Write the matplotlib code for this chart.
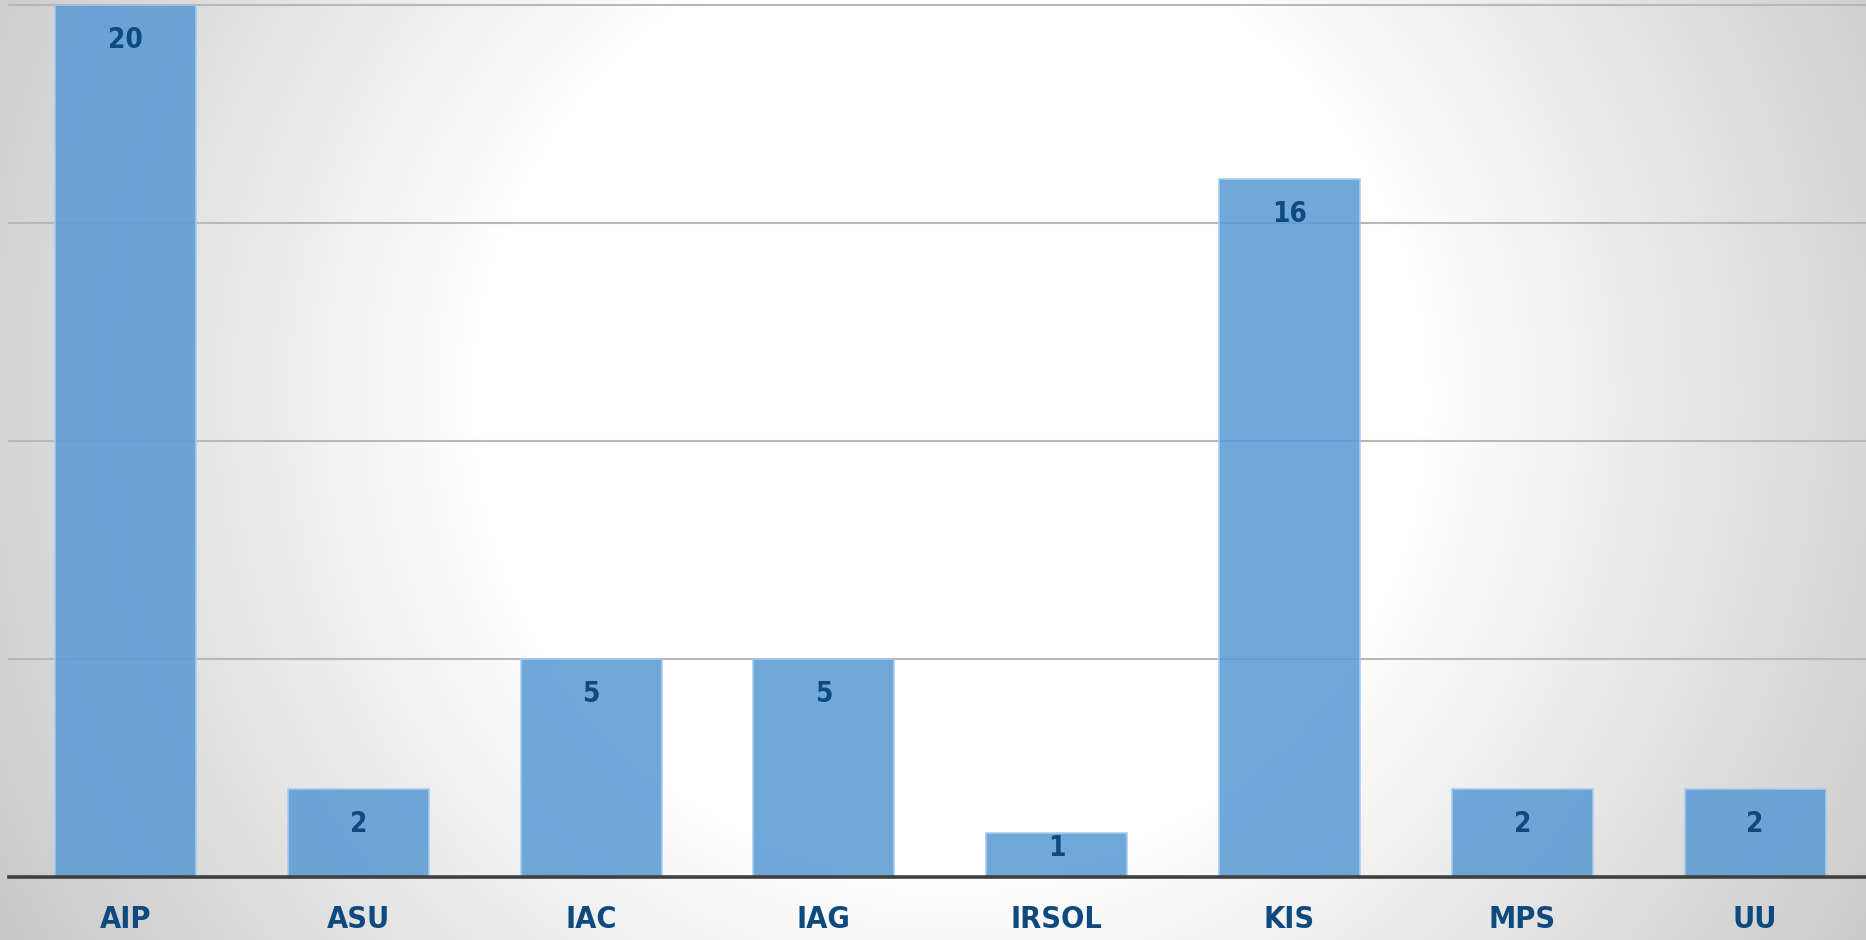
import numpy as np
import matplotlib
matplotlib.use("Agg")
import matplotlib.pyplot as plt
from matplotlib import font_manager

categories = ["AIP", "ASU", "IAC", "IAG", "IRSOL", "KIS", "MPS", "UU"]
values = [20, 2, 5, 5, 1, 16, 2, 2]
grid_values = [5, 10, 15, 20]

W, H, DPI = 1866, 940, 100
fig = plt.figure(figsize=(W / DPI, H / DPI), dpi=DPI)

names = {f.name for f in font_manager.fontManager.ttflist}
if "Liberation Sans Narrow" in names:
    fam = "Liberation Sans Narrow"
    stretch = "normal"
else:
    fam = "DejaVu Sans"
    stretch = "condensed"

# radial gradient background
bg = fig.add_axes([0, 0, 1, 1], zorder=0)
yy, xx = np.mgrid[0:H, 0:W]
d = np.hypot(xx - 950, yy - 400)
v = 255 - 0.088 * np.clip(d - 470, 0, None)
v = np.clip(v, 198, 255) / 255.0
img = np.dstack([v, v, v])
bg.imshow(img, aspect="auto", extent=[0, 1, 0, 1], origin="upper")
bg.axis("off")

left = 9 / W
bottom = (H - 876.5) / H
top = (H - 5) / H
ax = fig.add_axes([left, bottom, 1 - left + 0.003, top - bottom], zorder=1)
ax.set_facecolor("none")

x = np.arange(len(categories))
ax.set_xlim(-0.5, len(categories) - 0.5)
ax.set_ylim(0, 20)

for g in grid_values:
    ax.axhline(g, color="#B8B8B8", lw=1.5, zorder=1, clip_on=False)

bars = ax.bar(x, values, width=0.606, color="#5B9BD5", alpha=0.87,
              edgecolor="#A8CCEC", linewidth=1.3, zorder=2)

ax.axhline(0, color="#404040", lw=2.6, zorder=3, clip_on=False)

px_per_unit = (876.5 - 5) / 20.0
label_color = "#0F4A7E"
for xi, val in zip(x, values):
    hpx = val * px_per_unit
    off = min(35.0, hpx - 28.0)
    ax.annotate(str(val), xy=(xi, val), xytext=(0, -off * 72 / DPI),
                textcoords="offset points", ha="center", va="center",
                fontsize=20, fontweight="bold", color=label_color,
                family=fam, fontstretch=stretch, zorder=4)

for s in ax.spines.values():
    s.set_visible(False)
ax.set_yticks([])
ax.set_xticks(x)
ax.set_xticklabels(categories, fontsize=22, fontweight="bold",
                   color=label_color, family=fam, fontstretch=stretch)
ax.tick_params(axis="x", length=0, pad=20.5)

fig.savefig("out.png", dpi=DPI)
